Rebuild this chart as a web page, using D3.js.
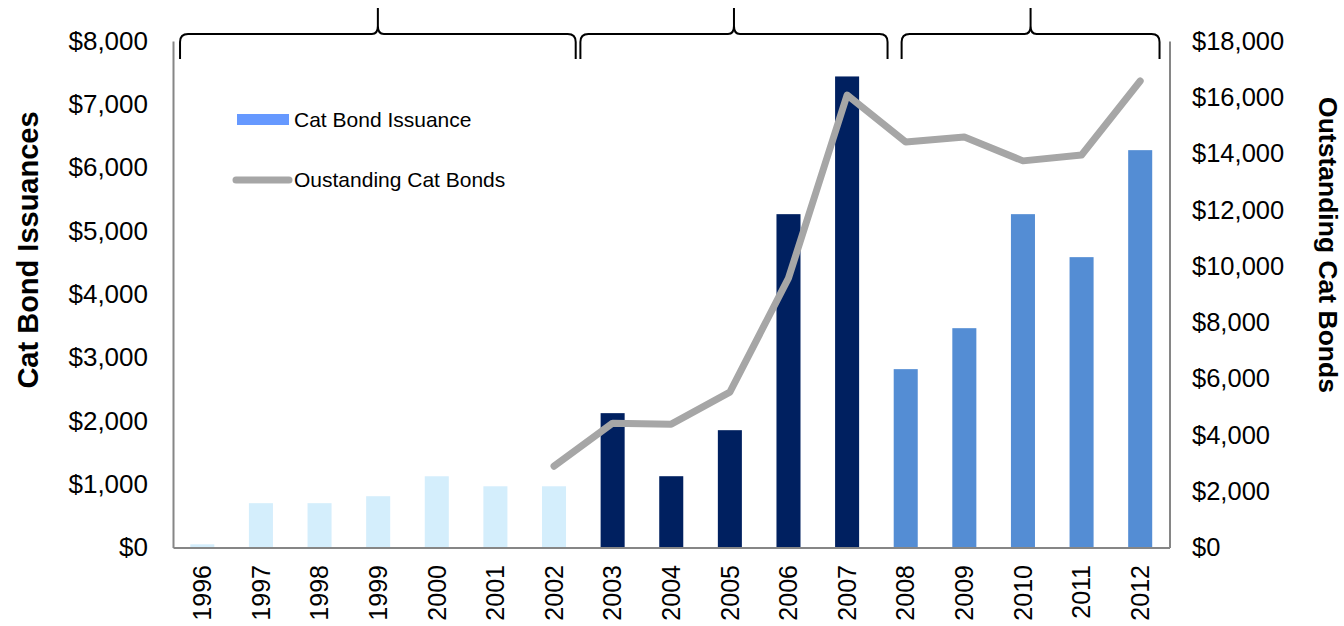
<!DOCTYPE html>
<html>
<head>
<meta charset="utf-8">
<script src="https://cdn.jsdelivr.net/npm/d3@7"></script>
<style>
  html, body { margin: 0; padding: 0; background: #fff; }
  svg { display: block; font-family: "Liberation Sans", Arial, sans-serif; }
</style>
</head>
<body>
<svg id="chart" width="1344" height="626"></svg>
<script>
// Annual catastrophe bond issuance and outstanding volume (USD millions)
const years = ["1996","1997","1998","1999","2000","2001","2002","2003","2004",
               "2005","2006","2007","2008","2009","2010","2011","2012"];
const issuance = [50, 700, 700, 810, 1125, 967, 967, 2122, 1126,
                  1853, 5265, 7440, 2817, 3464, 5265, 4586, 6276];
const outstanding = [null, null, null, null, null, null, 2890, 4419, 4383,
                     5520, 9573, 16080, 14410, 14590, 13740, 13950, 16580];
// Market eras, each drawn as a brace over its years
const eras = ["early", "growth", "post-crisis"];
const eraColors = ["#D4EEFC", "#002060", "#548DD4"];
const eraOfYear = [0,0,0,0,0,0,0, 1,1,1,1,1, 2,2,2,2,2];
// Brace extents in category units (0 = left edge of first year, 17 = right edge of last)
const braceStart = [0.12, 6.95, 12.43];
const braceEnd   = [6.87, 12.19, 16.83];
const leftTicks  = [0, 1000, 2000, 3000, 4000, 5000, 6000, 7000, 8000];
const rightTicks = [0, 2000, 4000, 6000, 8000, 10000, 12000, 14000, 16000, 18000];

const svg = d3.select("#chart");
const plot = { left: 173, right: 1169.5, top: 41, bottom: 547.5 };

const x = d3.scaleBand().domain(years).range([plot.left, plot.right])
  .paddingInner(0.59).paddingOuter(0.295);
const idx = d3.scaleLinear().domain([0, years.length]).range([plot.left, plot.right]);
const yL = d3.scaleLinear().domain([0, 8000]).range([plot.bottom, plot.top]);
const yR = d3.scaleLinear().domain([0, 18000]).range([plot.bottom, plot.top]);
const money = d => "$" + d3.format(",")(d);
const axisGrey = "#868686";

// Bars
svg.append("g").selectAll("rect").data(years).join("rect")
  .attr("x", d => x(d))
  .attr("width", x.bandwidth())
  .attr("y", (d, i) => yL(issuance[i]))
  .attr("height", (d, i) => plot.bottom - yL(issuance[i]))
  .attr("fill", (d, i) => eraColors[eraOfYear[i]]);

// Outstanding line
const line = d3.line()
  .defined(d => d[1] != null)
  .x(d => x(d[0]) + x.bandwidth() / 2)
  .y(d => yR(d[1]));
svg.append("path")
  .datum(years.map((y, i) => [y, outstanding[i]]))
  .attr("d", line)
  .attr("fill", "none")
  .attr("stroke", "#A6A6A6")
  .attr("stroke-width", 7)
  .attr("stroke-linecap", "round")
  .attr("stroke-linejoin", "round");

// Axes
const gL = svg.append("g").attr("transform", `translate(${plot.left},0)`)
  .call(d3.axisLeft(yL).tickValues(leftTicks).tickSize(0).tickSizeOuter(0)
    .tickPadding(25).tickFormat(money));
const gR = svg.append("g").attr("transform", `translate(${plot.right},0)`)
  .call(d3.axisRight(yR).tickValues(rightTicks).tickSize(0).tickSizeOuter(0)
    .tickPadding(22.5).tickFormat(money));
const gB = svg.append("g").attr("transform", `translate(0,${plot.bottom})`)
  .call(d3.axisBottom(x).tickSize(0).tickSizeOuter(0).tickPadding(0));

[gL, gR, gB].forEach(g => {
  g.select(".domain").attr("stroke", axisGrey).attr("stroke-width", 2);
  g.selectAll("text").attr("fill", "#000").attr("font-family", "Liberation Sans, Arial, sans-serif");
});
gL.selectAll("text").attr("font-size", 26);
gR.selectAll("text").attr("font-size", 25.5);
gB.selectAll("text")
  .attr("font-size", 25)
  .attr("transform", "rotate(-90)")
  .attr("text-anchor", "end")
  .attr("x", -17.5)
  .attr("y", 0)
  .attr("dy", "0.35em");

// Axis titles
svg.append("text")
  .attr("transform", "translate(28,250) rotate(-90)")
  .attr("text-anchor", "middle").attr("dy", "0.35em")
  .attr("font-size", 29).attr("font-weight", "bold")
  .text("Cat Bond Issuances");
svg.append("text")
  .attr("transform", "translate(1328,245) rotate(90)")
  .attr("text-anchor", "middle").attr("dy", "0.35em")
  .attr("font-size", 26.5).attr("font-weight", "bold")
  .text("Outstanding Cat Bonds");

// Era braces above the plot
function bracePath(x0, x1) {
  const yEnd = 59, yBar = 34, yTip = 8, r = 8, t = 6;
  const xm = (x0 + x1) / 2;
  return `M${x0},${yEnd} L${x0},${yBar + r} Q${x0},${yBar} ${x0 + r},${yBar}` +
         ` L${xm - t},${yBar} Q${xm},${yBar} ${xm},${yBar - 8} L${xm},${yTip}` +
         ` M${xm},${yBar - 8} Q${xm},${yBar} ${xm + t},${yBar}` +
         ` L${x1 - r},${yBar} Q${x1},${yBar} ${x1},${yBar + r} L${x1},${yEnd}`;
}
svg.append("g").selectAll("path").data(eras).join("path")
  .attr("d", (d, i) => bracePath(idx(braceStart[i]), idx(braceEnd[i])))
  .attr("fill", "none")
  .attr("stroke", "#000")
  .attr("stroke-width", 2);

// Legend
const legend = svg.append("g");
legend.append("rect")
  .attr("x", 237).attr("y", 114).attr("width", 52).attr("height", 11)
  .attr("fill", "#6699FF");
legend.append("text")
  .attr("x", 294).attr("y", 127).attr("font-size", 21)
  .text("Cat Bond Issuance");
legend.append("line")
  .attr("x1", 236).attr("x2", 289).attr("y1", 180).attr("y2", 180)
  .attr("stroke", "#A6A6A6").attr("stroke-width", 7).attr("stroke-linecap", "round");
legend.append("text")
  .attr("x", 294).attr("y", 187).attr("font-size", 21)
  .text("Oustanding Cat Bonds");
</script>
</body>
</html>
